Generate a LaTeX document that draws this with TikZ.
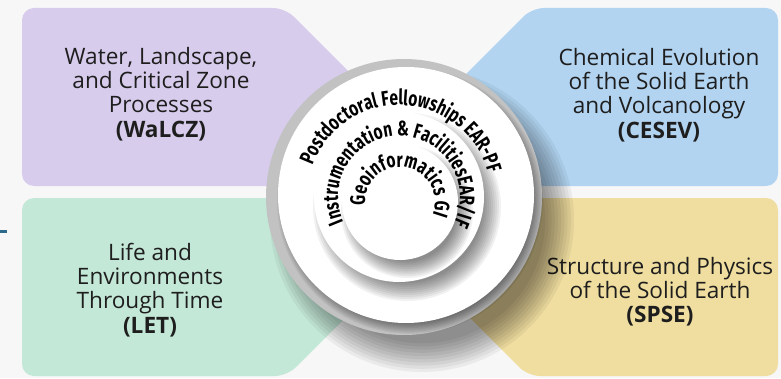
\documentclass[tikz,border=0pt]{standalone}
\usepackage{fontspec}
\setmainfont{Open Sans}
\newfontfamily\ringfont{Fira Sans}[FakeStretch=0.74]
\usetikzlibrary{decorations.text}

\definecolor{pagebg}{HTML}{F7F7F7}
\definecolor{walczfill}{HTML}{D8CCEC}
\definecolor{cesevfill}{HTML}{B2D4F0}
\definecolor{letfill}{HTML}{C4E8D8}
\definecolor{spsefill}{HTML}{F0DEA0}
\definecolor{ringgray}{HTML}{C2C2C2}
\definecolor{textdark}{HTML}{1E1E1E}
\definecolor{markblue}{HTML}{2E6A8C}

\newcommand\ringstyle{\ringfont\bfseries\fontsize{21}{21}\selectfont}

% soft round shadow: centre x, centre y, radius, spread, opacity of each layer
\newcommand\softdisc[5]{%
  \foreach \k in {0,...,9}{%
    \fill[black, opacity=#5] (#1,#2) circle ({#3+#4-\k*#4/5});
  }%
}

\tikzset{
  area/.style={rounded corners=12pt},
  boxtext/.style={align=center, text=textdark, font=\fontsize{22.6}{24.2}\selectfont},
  ringlabel/.style={decorate, decoration={text along path, text align=center, text={|\ringstyle|#1}}}
}

\begin{document}
\begin{tikzpicture}[x=1pt, y=1pt]
\useasboundingbox (0,0) rectangle (781,378);
\fill[pagebg] (0,0) rectangle (781,378);

% four subject areas, each cut towards the centre
\fill[walczfill, area] (22,192) -- (22,370) -- (285,370) -- (408,247) -- (408,192) -- cycle;
\fill[cesevfill, area] (408,192) -- (408,246) -- (532,370) -- (778,370) -- (778,192) -- cycle;
\fill[letfill, area] (22,180) -- (22,2) -- (287,2) -- (408,123) -- (408,180) -- cycle;
\fill[spsefill, area] (408,180) -- (408,122) -- (528,2) -- (778,2) -- (778,180) -- cycle;

\node[boxtext] (walcz) at (161,284) {Water, Landscape,\\and Critical Zone\\Processes\\\textbf{(WaLCZ)}};
\node[boxtext] (cesev) at (659,283) {Chemical Evolution\\of the Solid Earth\\and Volcanology\\\textbf{(CESEV)}};
\node[boxtext] (let) at (150,88) {Life and\\Environments\\Through Time\\\textbf{(LET)}};
\node[boxtext] (spse) at (660,86) {Structure and Physics\\of the Solid Earth\\\textbf{(SPSE)}};

% small mark on the left edge
\draw[markblue, line width=2.5pt] (0,146.3) -- (7,146.3);

% central stack of discs
\softdisc{422}{158}{136}{16}{0.05}
\fill[ringgray] (404,181) circle (138);
\softdisc{410}{177}{127}{6}{0.05}
\fill[white] (406,183) circle (128);

\softdisc{407}{171}{84}{10}{0.055}
\fill[white] (399,181) circle (85);

\softdisc{407}{166}{57}{9}{0.055}
\fill[white] (400,176) circle (58);

% ring captions
\path[ringlabel={Postdoctoral Fellowships EAR-PF}]
  (399,181) ++(175:92) arc[start angle=175, end angle=0, radius=92];
\path[ringlabel={Instrumentation {\&} FacilitiesEAR/IF}]
  (399,181) ++(230:61) arc[start angle=230, end angle=-52, radius=61];
\path[ringlabel={Geoinformatics GI}]
  (400,176) ++(190:35) arc[start angle=190, end angle=-25, radius=35];
\end{tikzpicture}
\end{document}
